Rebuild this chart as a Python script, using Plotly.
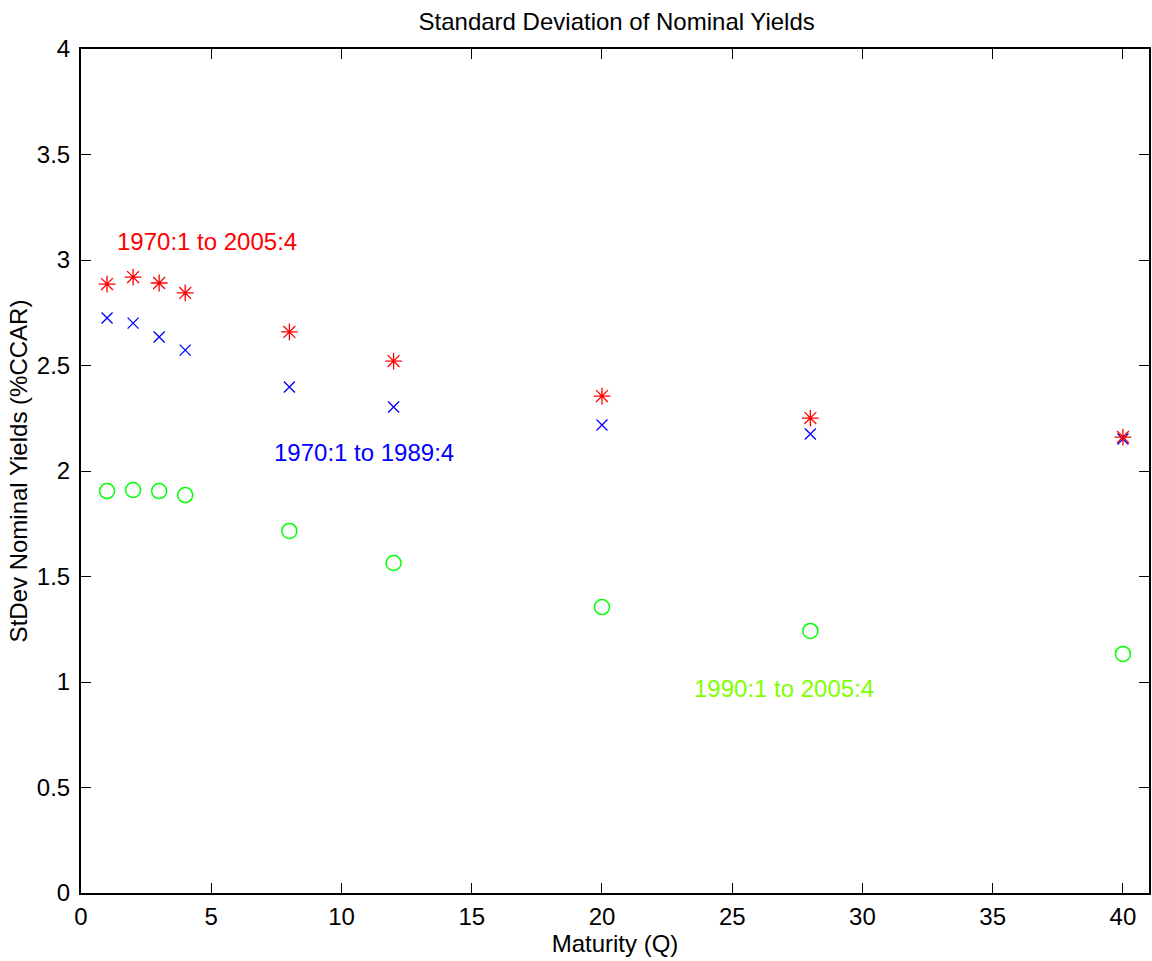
import plotly.graph_objects as go

maturity = [1, 2, 3, 4, 8, 12, 20, 28, 40]
sd_1970_2005 = [2.886, 2.919, 2.891, 2.844, 2.659, 2.521, 2.355, 2.251, 2.161]
sd_1970_1989 = [2.725, 2.701, 2.635, 2.573, 2.398, 2.303, 2.218, 2.175, 2.152]
sd_1990_2005 = [1.905, 1.910, 1.905, 1.886, 1.716, 1.564, 1.355, 1.242, 1.133]

labels = ["1970:1 to 2005:4", "1970:1 to 1989:4", "1990:1 to 2005:4"]
label_x = [1.3, 7.35, 23.45]
label_y = [3.09, 2.09, 0.967]

FONT = "Liberation Sans, Arial, Helvetica, sans-serif"
fs = 24

fig = go.Figure()
fig.add_trace(go.Scatter(x=maturity, y=sd_1990_2005, mode="markers",
                         marker=dict(symbol="circle-open", size=15, color="#00ff00",
                                     line=dict(width=1.5, color="#00ff00"))))
fig.add_trace(go.Scatter(x=maturity, y=sd_1970_1989, mode="markers",
                         marker=dict(symbol="x-thin-open", size=11, color="#0000ff",
                                     line=dict(width=1.3, color="#0000ff"))))
fig.add_trace(go.Scatter(x=maturity, y=sd_1970_2005, mode="markers",
                         marker=dict(symbol="asterisk-open", size=14, color="#ff0000",
                                     line=dict(width=1.3, color="#ff0000"))))

colors = ["#ff0000", "#0000ff", "#7fff00"]
for t, x, y, c in zip(labels, label_x, label_y, colors):
    fig.add_annotation(x=x, y=y, text=t, showarrow=False, xanchor="left",
                       yanchor="middle", font=dict(family=FONT, size=fs, color=c))

axis_common = dict(showgrid=False, zeroline=False, showline=True, linecolor="black",
                   linewidth=2, mirror="ticks", ticks="inside", ticklen=10,
                   tickcolor="black", tickwidth=1,
                   tickfont=dict(family=FONT, size=fs, color="black"))

fig.update_layout(
    width=1152, height=961,
    margin=dict(l=81, r=1, t=49, b=68),
    paper_bgcolor="white", plot_bgcolor="white",
    showlegend=False,
    title=dict(text="Standard Deviation of Nominal Yields", x=0.5353, xanchor="center",
               y=1 - 22 / 961, yanchor="middle",
               font=dict(family=FONT, size=fs, color="black")),
    xaxis=dict(range=[0, 41], tickvals=[0, 5, 10, 15, 20, 25, 30, 35, 40],
               title=dict(text="Maturity (Q)", standoff=2,
                          font=dict(family=FONT, size=fs, color="black")),
               ticklabelstandoff=1, **axis_common),
    yaxis=dict(range=[0, 4], tickvals=[0, 0.5, 1, 1.5, 2, 2.5, 3, 3.5, 4],
               ticktext=["0", "0.5", "1", "1.5", "2", "2.5", "3", "3.5", "4"],
               title=dict(text="StDev Nominal Yields (%CCAR)", standoff=2,
                          font=dict(family=FONT, size=fs, color="black")),
               ticklabelstandoff=4, **axis_common),
)

fig.write_html("out.html")
